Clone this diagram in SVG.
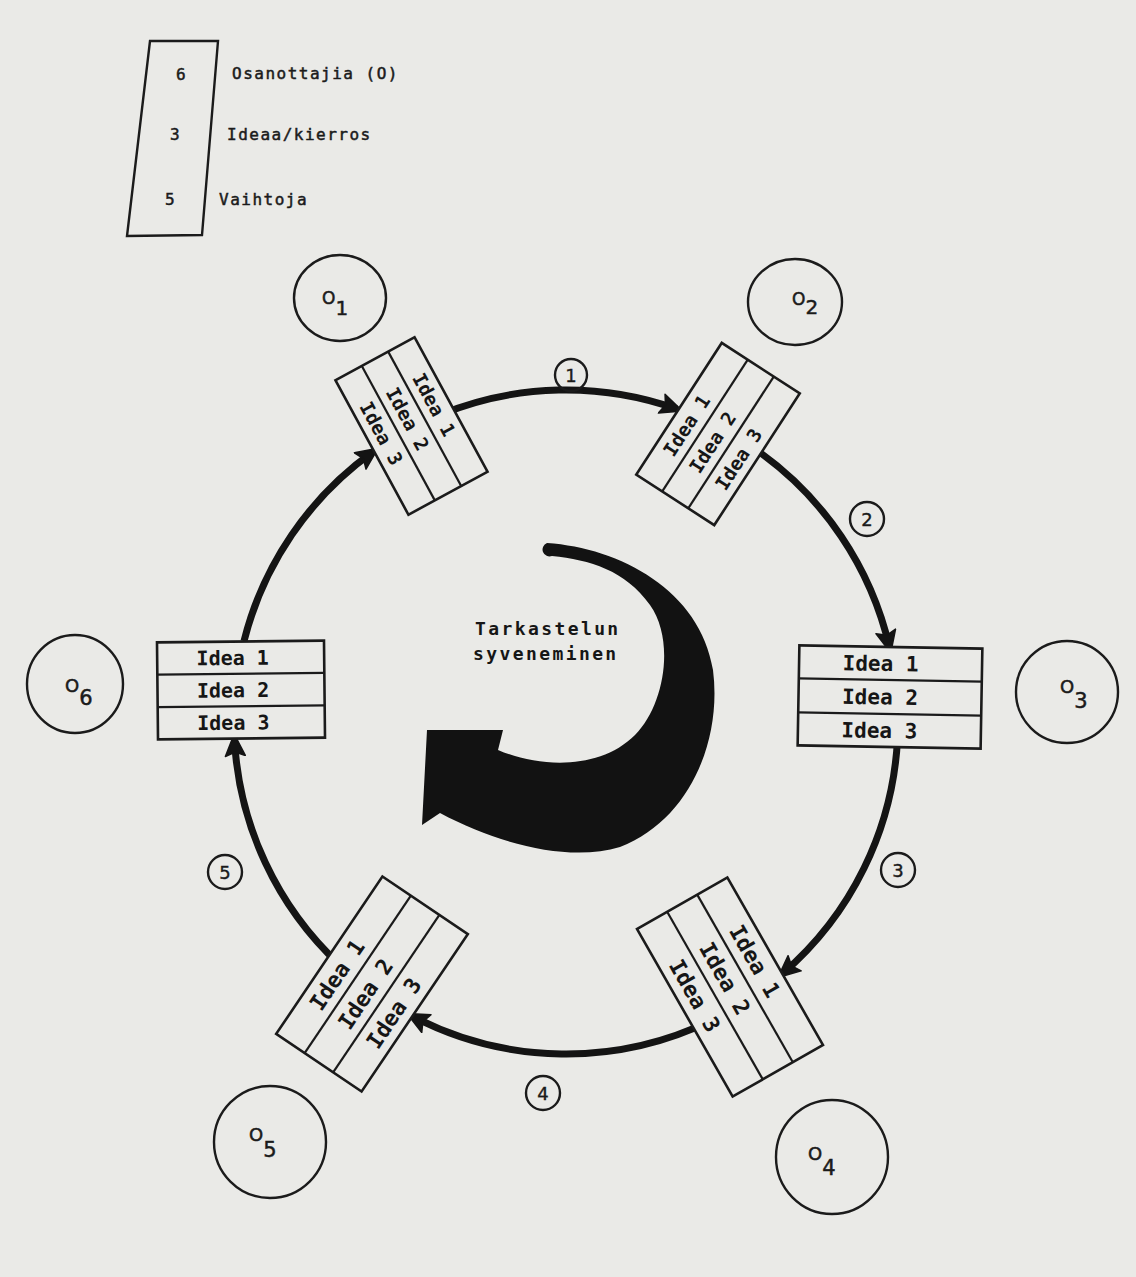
<svg xmlns="http://www.w3.org/2000/svg" width="1136" height="1277" viewBox="0 0 1136 1277">
<style>
.ink{stroke:#1b1b1b;fill:none;stroke-width:2.4}
.box{stroke:#1b1b1b;fill:#eaeae7;stroke-width:2.6}
.div{stroke:#1b1b1b;stroke-width:2.2}
.conn{stroke:#141414;fill:none;stroke-width:7;marker-end:url(#ah)}
.bt{font-family:"DejaVu Sans Mono","Liberation Mono",monospace;font-weight:bold;fill:#161616;text-anchor:middle}
.lg{font-family:"DejaVu Sans Mono","Liberation Mono",monospace;font-size:16px;fill:#1b1b1b;stroke:#1b1b1b;stroke-width:0.5px;letter-spacing:1.5px}
.ol{font-family:"DejaVu Sans","Liberation Sans",sans-serif;fill:#1b1b1b;stroke:#1b1b1b;stroke-width:0.5px}
.num{font-family:"DejaVu Sans","Liberation Sans",sans-serif;font-size:18px;fill:#1b1b1b;stroke:#1b1b1b;stroke-width:0.4px;text-anchor:middle}
.ct{font-family:"DejaVu Sans Mono","Liberation Mono",monospace;font-weight:bold;font-size:18px;fill:#161616;letter-spacing:2.4px}
</style>
<defs>
<marker id="ah" markerUnits="userSpaceOnUse" markerWidth="24" markerHeight="22" viewBox="0 0 24 22" refX="17" refY="11" orient="auto">
<path d="M1,1 L23,11 L1,21 L5,11 Z" fill="#141414" stroke="#141414" stroke-width="1.5" stroke-linejoin="round"/>
</marker>
</defs>
<rect x="0" y="0" width="1136" height="1277" fill="#eaeae7"/>

<g id="legend">
<polygon class="ink" points="150,41 218,41 202,235 127,236"/>
<text class="lg" x="176" y="80">6</text>
<text class="lg" x="232" y="79">Osanottajia (O)</text>
<text class="lg" x="170" y="140">3</text>
<text class="lg" x="227" y="140">Ideaa/kierros</text>
<text class="lg" x="165" y="205">5</text>
<text class="lg" x="219" y="205">Vaihtoja</text>
</g>

<g id="connectors">
<g id="c1"><path class="conn" d="M 441.6 414.2 A 332 332 0 0 1 676.8 409.0"/>
<circle class="ink" cx="571" cy="375" r="16"/><text class="num" x="571" y="381.5">1</text></g>
<g id="c2"><path class="conn" d="M 756.4 450.0 A 332 332 0 0 1 889.4 647.0"/>
<circle class="ink" cx="867" cy="519" r="17"/><text class="num" x="867" y="525.5">2</text></g>
<g id="c3"><path class="conn" d="M 897.5 739.4 A 332 332 0 0 1 782.5 973.7"/>
<circle class="ink" cx="898" cy="870" r="17"/><text class="num" x="898" y="876.5">3</text></g>
<g id="c4"><path class="conn" d="M 711.5 1020.4 A 332 332 0 0 1 412.2 1016.2"/>
<circle class="ink" cx="543" cy="1093" r="17"/><text class="num" x="543" y="1099.5">4</text></g>
<g id="c5"><path class="conn" d="M 339.6 964.8 A 332 332 0 0 1 234.5 740"/>
<circle class="ink" cx="225" cy="872" r="17"/><text class="num" x="225" y="878.5">5</text></g>
<g id="c6"><path class="conn" d="M 244 641.1 A 332 332 0 0 1 373.2 451.7"/></g>
</g>

<g id="box-o1" transform="translate(411.5,426) rotate(61.5)">
<rect class="box" x="-76.5" y="-45" width="153" height="90"/>
<line class="div" x1="-76.5" y1="-15" x2="76.5" y2="-15"/>
<line class="div" x1="-76.5" y1="15" x2="76.5" y2="15"/>
<text class="bt" font-size="19" x="-8" y="-23.2">Idea 1</text>
<text class="bt" font-size="19" x="-8" y="6.8">Idea 2</text>
<text class="bt" font-size="19" x="-8" y="36.8">Idea 3</text>
</g>
<g id="box-o2" transform="translate(718,434) rotate(-57)">
<rect class="box" x="-78.5" y="-46.5" width="157" height="93"/>
<line class="div" x1="-78.5" y1="-15.5" x2="78.5" y2="-15.5"/>
<line class="div" x1="-78.5" y1="15.5" x2="78.5" y2="15.5"/>
<text class="bt" font-size="19" x="-10" y="-24.2">Idea 1</text>
<text class="bt" font-size="19" x="-10" y="6.8">Idea 2</text>
<text class="bt" font-size="19" x="-10" y="37.8">Idea 3</text>
</g>
<g id="box-o3" transform="translate(890,697) rotate(1)">
<rect class="box" x="-91.5" y="-50" width="183" height="100"/>
<line class="div" x1="-91.5" y1="-17" x2="91.5" y2="-17"/>
<line class="div" x1="-91.5" y1="17" x2="91.5" y2="17"/>
<text class="bt" font-size="21" x="-10" y="-26">Idea 1</text>
<text class="bt" font-size="21" x="-10" y="7.5">Idea 2</text>
<text class="bt" font-size="21" x="-10" y="41">Idea 3</text>
</g>
<g id="box-o4" transform="translate(730,987) rotate(60.3)">
<rect class="box" x="-96.5" y="-52" width="193" height="104"/>
<line class="div" x1="-96.5" y1="-17.3" x2="96.5" y2="-17.3"/>
<line class="div" x1="-96.5" y1="17.3" x2="96.5" y2="17.3"/>
<text class="bt" font-size="22" x="-10" y="-26.7">Idea 1</text>
<text class="bt" font-size="22" x="-10" y="7.9">Idea 2</text>
<text class="bt" font-size="22" x="-10" y="42.6">Idea 3</text>
</g>
<g id="box-o5" transform="translate(372,984) rotate(-56)">
<rect class="box" x="-95" y="-51.5" width="190" height="103"/>
<line class="div" x1="-95" y1="-17.2" x2="95" y2="-17.2"/>
<line class="div" x1="-95" y1="17.2" x2="95" y2="17.2"/>
<text class="bt" font-size="22" x="-12" y="-26.4">Idea 1</text>
<text class="bt" font-size="22" x="-12" y="7.9">Idea 2</text>
<text class="bt" font-size="22" x="-12" y="42.2">Idea 3</text>
</g>
<g id="box-o6" transform="translate(241,690) rotate(-0.6)">
<rect class="box" x="-83.5" y="-48.5" width="167" height="97"/>
<line class="div" x1="-83.5" y1="-16.2" x2="83.5" y2="-16.2"/>
<line class="div" x1="-83.5" y1="16.2" x2="83.5" y2="16.2"/>
<text class="bt" font-size="20" x="-8" y="-25.2">Idea 1</text>
<text class="bt" font-size="20" x="-8" y="7.2">Idea 2</text>
<text class="bt" font-size="20" x="-8" y="39.6">Idea 3</text>
</g>

<g id="o1"><ellipse class="ink" cx="340" cy="298" rx="46" ry="43"/>
<text class="ol" x="322" y="304"><tspan font-size="17">O</tspan><tspan font-size="20" dy="11">1</tspan></text></g>
<g id="o2"><ellipse class="ink" cx="795" cy="302" rx="47" ry="43"/>
<text class="ol" x="792" y="305"><tspan font-size="17">O</tspan><tspan font-size="20" dy="9">2</tspan></text></g>
<g id="o3"><ellipse class="ink" cx="1067" cy="692" rx="51" ry="51"/>
<text class="ol" x="1060" y="693"><tspan font-size="18">O</tspan><tspan font-size="21" dy="15">3</tspan></text></g>
<g id="o4"><ellipse class="ink" cx="832" cy="1157" rx="56" ry="57"/>
<text class="ol" x="808" y="1160"><tspan font-size="18">O</tspan><tspan font-size="21" dy="15">4</tspan></text></g>
<g id="o5"><ellipse class="ink" cx="270" cy="1142" rx="56" ry="56"/>
<text class="ol" x="249" y="1141"><tspan font-size="18">O</tspan><tspan font-size="21" dy="16">5</tspan></text></g>
<g id="o6"><ellipse class="ink" cx="75" cy="684" rx="48" ry="49"/>
<text class="ol" x="65" y="692"><tspan font-size="18">O</tspan><tspan font-size="21" dy="13">6</tspan></text></g>

<g id="center">
<path fill="#121212" d="M 547 543 C 620 548, 700 590, 713 670 C 722 740, 690 820, 620 847 C 570 862, 500 845, 440 813 L 422 825 L 427 730 L 503 730 L 498 750 C 540 768, 600 770, 635 735 C 665 705, 675 640, 650 605 C 625 570, 590 560, 552 556 A 6.5 6.5 0 0 1 547 543 Z"/>
<text class="ct" x="475" y="635">Tarkastelun</text>
<text class="ct" x="473" y="660">syveneminen</text>
</g>
</svg>
